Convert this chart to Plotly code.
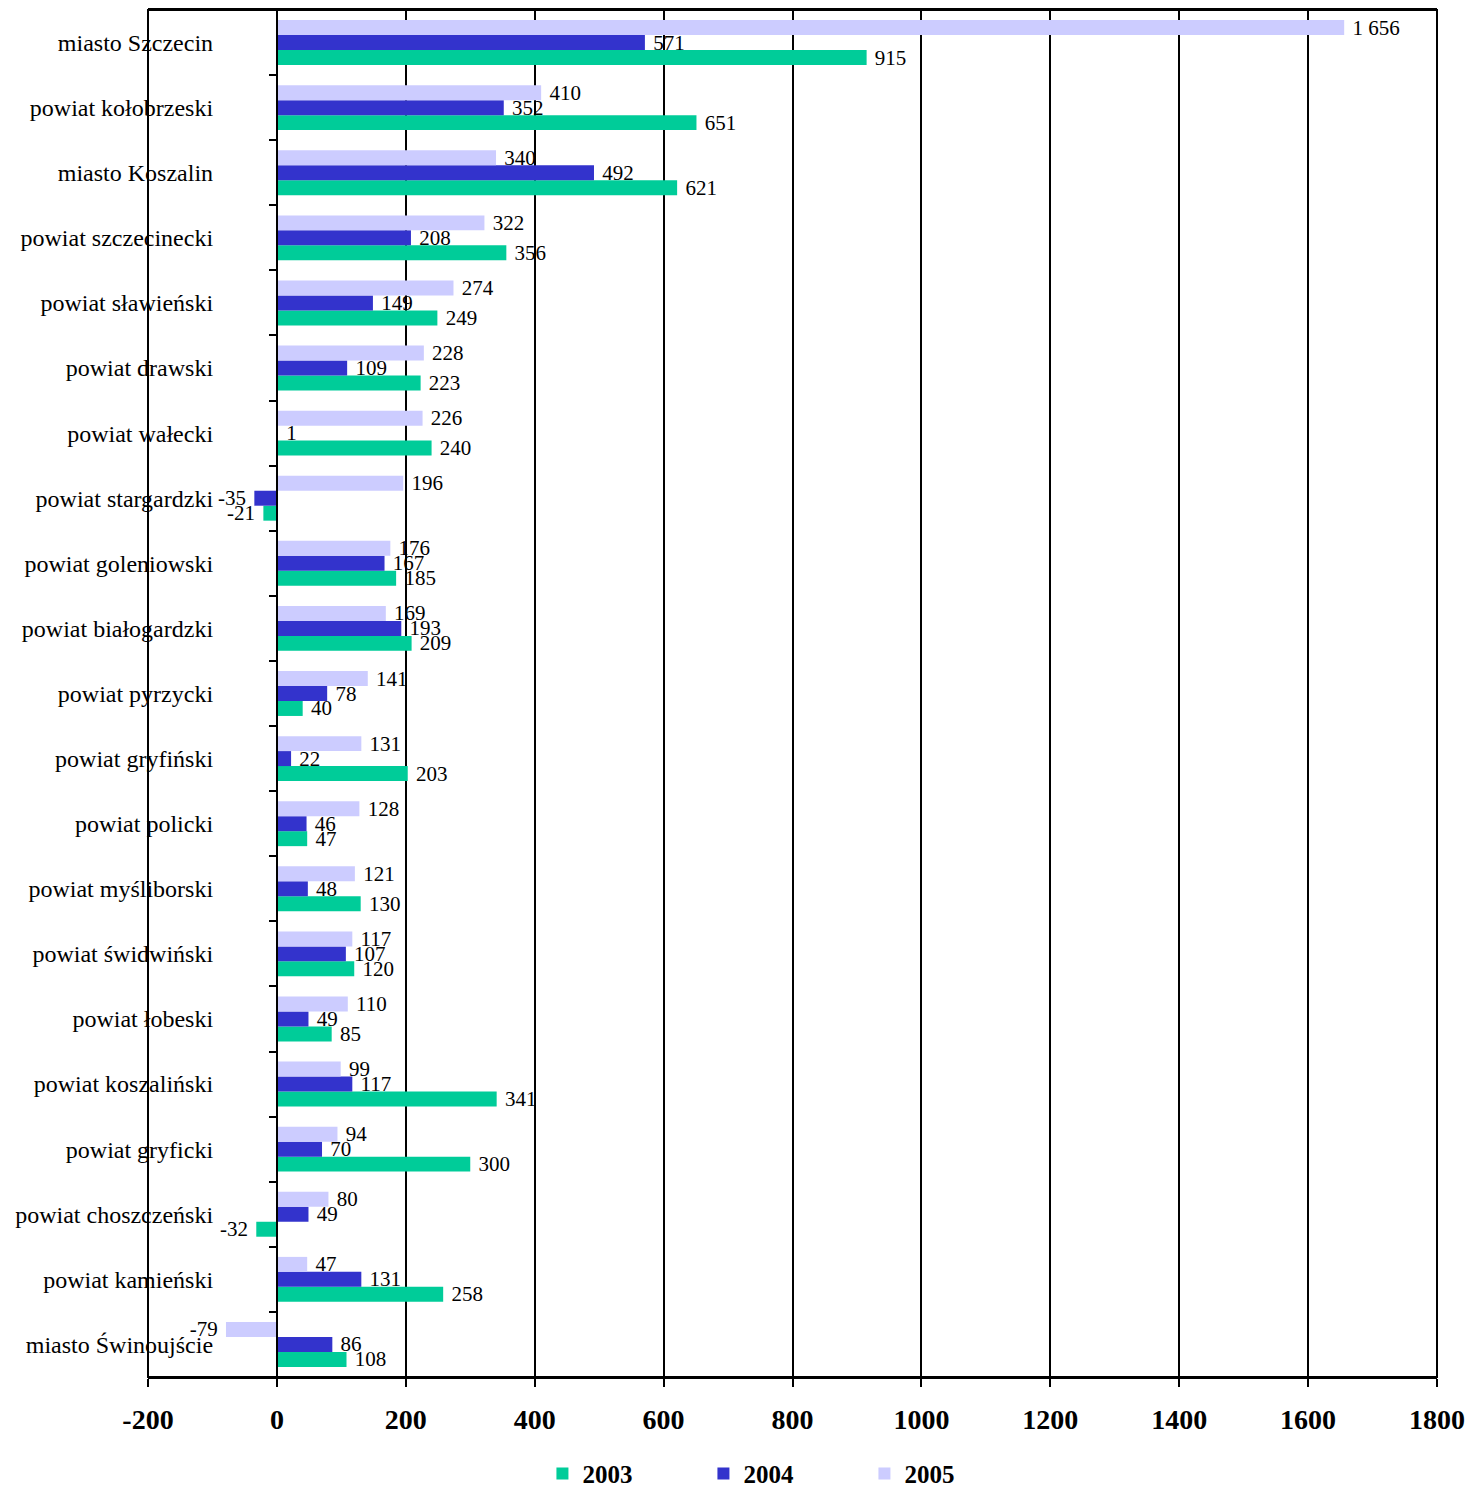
import plotly.graph_objects as go

categories = ["miasto Szczecin", "powiat kołobrzeski", "miasto Koszalin", "powiat szczecinecki",
              "powiat sławieński", "powiat drawski", "powiat wałecki", "powiat stargardzki",
              "powiat goleniowski", "powiat białogardzki", "powiat pyrzycki", "powiat gryfiński",
              "powiat policki", "powiat myśliborski", "powiat świdwiński", "powiat łobeski",
              "powiat koszaliński", "powiat gryficki", "powiat choszczeński", "powiat kamieński",
              "miasto Świnoujście"]
v2005 = [1656, 410, 340, 322, 274, 228, 226, 196, 176, 169, 141, 131, 128, 121, 117, 110, 99, 94, 80, 47, -79]
v2004 = [571, 352, 492, 208, 149, 109, 1, -35, 167, 193, 78, 22, 46, 48, 107, 49, 117, 70, 49, 131, 86]
v2003 = [915, 651, 621, 356, 249, 223, 240, -21, 185, 209, 40, 203, 47, 130, 120, 85, 341, 300, -32, 258, 108]
series_names = ["2003", "2004", "2005"]
colors = ["#00CC99", "#3333CC", "#CCCCFF"]
x_ticks = [-200, 0, 200, 400, 600, 800, 1000, 1200, 1400, 1600, 1800]

FONT = "Liberation Serif, Times New Roman, serif"
NB = "\u00a0"

def fmt(v):
    s = f"{v:,}".replace(",", " ")
    return s + NB if v < 0 else NB + s

fig = go.Figure()
for name, vals, col in zip(series_names, [v2003, v2004, v2005], colors):
    fig.add_trace(go.Bar(
        y=categories, x=vals, name=name, orientation="h",
        marker=dict(color=col, line=dict(width=0)),
        text=[fmt(v) for v in vals], textposition="outside",
        textfont=dict(family=FONT, size=21, color="black"),
        constraintext="none", cliponaxis=False,
    ))

fig.update_layout(
    width=1467, height=1488,
    margin=dict(l=148, r=30, t=10, b=111, autoexpand=False),
    plot_bgcolor="white", paper_bgcolor="white",
    barmode="group", bargap=0.31, bargroupgap=0,
    font=dict(family=FONT, color="black"),
    legend=dict(orientation="h", x=0.306, y=0.0095, xref="paper", yref="container",
                xanchor="left", yanchor="middle",
                font=dict(family=FONT, size=25, color="black", weight="bold"),
                entrywidth=116, entrywidthmode="pixels", itemwidth=30, tracegroupgap=0),
    showlegend=True,
)
fig.update_xaxes(
    range=[-200, 1800], tickvals=x_ticks, ticktext=[str(t) for t in x_ticks],
    showgrid=True, gridcolor="black", gridwidth=2, zeroline=False,
    showline=True, linecolor="black", linewidth=2, mirror=True,
    ticks="outside", ticklen=8, tickwidth=2, tickcolor="black",
    tickfont=dict(family=FONT, size=28, color="black", weight="bold"),
    ticklabelstandoff=8, automargin=False,
)
fig.update_yaxes(
    type="category", categoryorder="array", categoryarray=list(reversed(categories)),
    anchor="free", position=0.1, showline=True, linecolor="black", linewidth=2,
    ticks="outside", tickson="boundaries", ticklen=7, tickwidth=2, tickcolor="black",
    showgrid=False, zeroline=False,
    tickfont=dict(family=FONT, size=24, color="black"),
    ticklabelstandoff=58, automargin=False,
)
fig.add_shape(type="rect", xref="paper", yref="paper", x0=0, x1=1, y0=0, y1=1,
              line=dict(color="black", width=2), layer="above")
fig.write_html("out.html", config={"displayModeBar": False},
               post_script="document.body.style.margin='0';document.body.style.overflow='hidden';")
